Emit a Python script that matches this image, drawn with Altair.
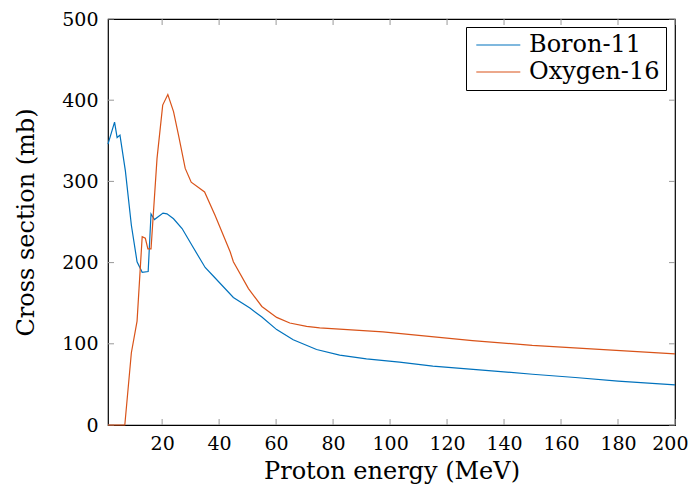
import altair as alt
import pandas as pd

boron_e = [1, 3.3, 4.2, 5.2, 7.1, 9.2, 11.2, 13, 15.1, 16.1, 17.3, 20.3, 21.7, 24, 27, 30.5, 35.1, 38.6, 45, 50.8, 55, 60.2, 66, 74.2, 82.3, 91.7, 103.3, 115, 132.4, 150, 165, 180, 200]
boron_v = [346, 373, 354, 357, 313, 246, 201, 188, 189, 260, 253, 261, 260, 254, 242, 221, 194, 181, 157, 144, 133, 117.5, 105, 93, 86, 81.5, 77.5, 72.6, 67.7, 62.5, 58.5, 54, 49.5]

oxygen_e = [1, 6.9, 9.2, 11.2, 13, 14.1, 15, 16.1, 18.2, 20.2, 22, 24, 25.8, 28.1, 30.2, 34.9, 38.6, 43.9, 45, 50.3, 55, 60.2, 64.8, 70.7, 75.3, 97.5, 128.9, 149.9, 200]
oxygen_v = [0, 0, 89, 128, 232, 230, 217, 217, 328, 394, 407, 386, 356, 316, 299, 287, 258, 213, 201, 168, 146, 132.5, 125.6, 121.5, 119.5, 114.6, 104, 98, 87.6]

series = ["Boron-11", "Oxygen-16"]
colors = ["#0072BD", "#D95319"]

x_ticks = [20, 40, 60, 80, 100, 120, 140, 160, 180, 200]
y_ticks = [0, 100, 200, 300, 400, 500]

rows = []
for e, v in zip(boron_e, boron_v):
    rows.append({"series": series[0], "energy": e, "xs": v})
for e, v in zip(oxygen_e, oxygen_v):
    rows.append({"series": series[1], "energy": e, "xs": v})
df = pd.DataFrame(rows)

W, H = 567, 406
FONT = "DejaVu Serif"

xscale = alt.Scale(domain=[1, 200], nice=False, zero=False)
yscale = alt.Scale(domain=[0, 500], nice=False)

lines = alt.Chart(df).mark_line(strokeWidth=1.2).encode(
    x=alt.X("energy:Q", scale=xscale,
            axis=alt.Axis(values=x_ticks, title="Proton energy (MeV)", ticks=False,
                          grid=False, domain=False, labelPadding=9, titlePadding=6,
                          labelOverlap=False, labelFlush=True, labelFlushOffset=13)),
    y=alt.Y("xs:Q", scale=yscale,
            axis=alt.Axis(values=y_ticks, title="Cross section (mb)", ticks=False,
                          grid=False, domain=False, labelPadding=10, titlePadding=23,
                          labelOverlap=False, labelFlush=False)),
    color=alt.Color("series:N", scale=alt.Scale(domain=series, range=colors),
                    legend=alt.Legend(title=None, orient="none", legendX=358, legendY=8,
                                      symbolType="M-0.7,0L3.3,0", symbolSize=484, symbolStrokeWidth=1.2,
                                      labelFontSize=24, labelFont=FONT, labelColor="black",
                                      strokeColor="black", fillColor="white", padding=6,
                                      rowPadding=3, labelOffset=33)),
)

xt = pd.DataFrame({"t": x_ticks})
yt = pd.DataFrame({"t": y_ticks})
tick_style = dict(color="#999999", strokeWidth=1)
xb = alt.Chart(xt).mark_rule(**tick_style).encode(x=alt.X("t:Q", scale=xscale), y=alt.value(H), y2=alt.value(H - 6))
xtop = alt.Chart(xt).mark_rule(**tick_style).encode(x=alt.X("t:Q", scale=xscale), y=alt.value(0), y2=alt.value(6))
yl = alt.Chart(yt).mark_rule(**tick_style).encode(y=alt.Y("t:Q", scale=yscale), x=alt.value(0), x2=alt.value(6))
yr = alt.Chart(yt).mark_rule(**tick_style).encode(y=alt.Y("t:Q", scale=yscale), x=alt.value(W), x2=alt.value(W - 6))

chart = alt.layer(xb, xtop, yl, yr, lines).properties(
    width=W, height=H,
    autosize=alt.AutoSizeParams(type="none"),
    padding={"left": 100, "top": 11, "right": 13, "bottom": 70},
).configure_view(stroke="black", strokeWidth=1.2).configure_axis(
    labelFont=FONT, titleFont=FONT, labelFontSize=19, titleFontSize=24,
    labelColor="black", titleColor="black", titleFontWeight="normal",
).configure_legend(labelLimit=0)

chart.save("out.html", embed_options={"renderer": "svg", "actions": False})
